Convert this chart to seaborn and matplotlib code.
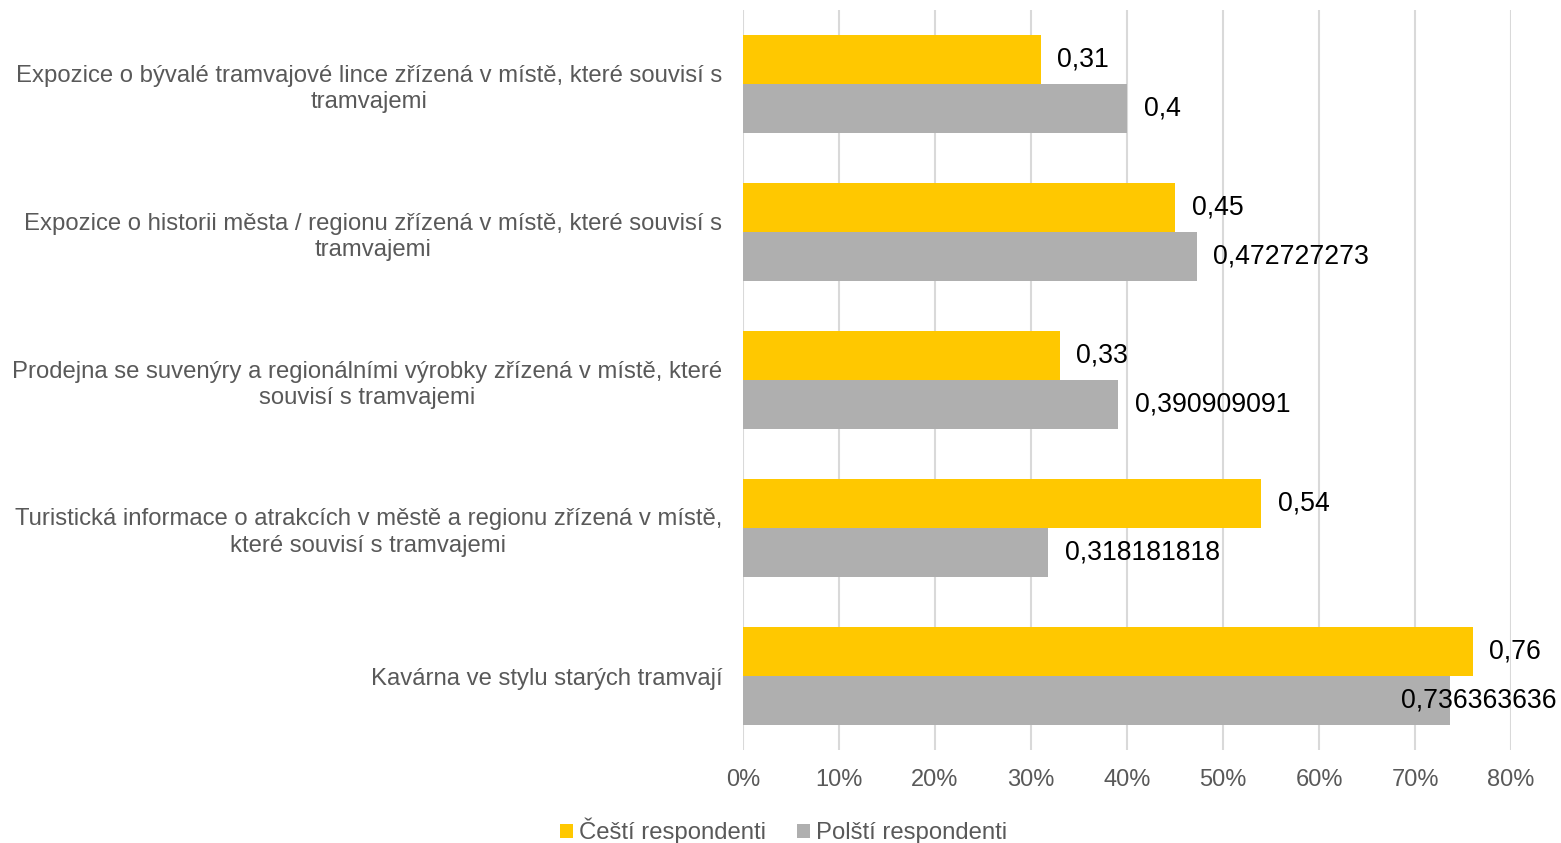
import matplotlib
matplotlib.use("Agg")
import matplotlib.pyplot as plt
from matplotlib.ticker import FuncFormatter, MultipleLocator
import seaborn as sns
import pandas as pd

categories = [
    "Expozice o bývalé tramvajové lince zřízená v místě, které souvisí s\ntramvajemi",
    "Expozice o historii města / regionu zřízená v místě, které souvisí s\ntramvajemi",
    "Prodejna se suvenýry a regionálními výrobky zřízená v místě, které\nsouvisí s tramvajemi",
    "Turistická informace o atrakcích v městě a regionu zřízená v místě,\nkteré souvisí s tramvajemi",
    "Kavárna ve stylu starých tramvají",
]
series = ["Čeští respondenti", "Polští respondenti"]
czech = [0.31, 0.45, 0.33, 0.54, 0.76]
polish = [0.4, 0.472727273, 0.390909091, 0.318181818, 0.736363636]
czech_labels = ["0,31", "0,45", "0,33", "0,54", "0,76"]
polish_labels = ["0,4", "0,472727273", "0,390909091", "0,318181818", "0,736363636"]
colors = ["#FFC800", "#AFAFAF"]

df = pd.DataFrame({
    "kategorie": categories * 2,
    "skupina": [series[0]] * len(categories) + [series[1]] * len(categories),
    "hodnota": czech + polish,
})

sns.set_theme(style="white")
plt.rcParams["font.family"] = ["Liberation Sans", "DejaVu Sans"]

W, H = 1561, 843
fig = plt.figure(figsize=(W / 100, H / 100), dpi=100)
ax = fig.add_axes([743 / W, 1 - 750 / H, (1511 - 743) / W, 740 / H])

sns.barplot(data=df, y="kategorie", x="hodnota", hue="skupina", order=categories,
            hue_order=series, palette=colors, orient="h", width=0.662,
            saturation=1, ax=ax, legend=True, zorder=3, linewidth=0)

ax.set_xlim(0, 0.8)
ax.xaxis.set_major_locator(MultipleLocator(0.1))
ax.xaxis.set_major_formatter(FuncFormatter(lambda v, p: f"{v * 100:.0f}%"))
ax.set_xlabel("")
ax.set_ylabel("")
ax.grid(axis="x", color="#D9D9D9", linewidth=1.5, zorder=0)
ax.grid(axis="y", visible=False)
ax.set_axisbelow(True)
for s in ax.spines.values():
    s.set_visible(False)

ax.tick_params(axis="x", length=0, pad=14, labelsize=17, labelcolor="#595959")
ax.tick_params(axis="y", length=0, pad=15, labelsize=17.2, labelcolor="#595959")
for t in ax.get_yticklabels():
    t.set_multialignment("center")
    t.set_linespacing(1.28)

value_texts = []
for cont, labs in zip(ax.containers, [czech_labels, polish_labels]):
    value_texts += ax.bar_label(cont, labels=labs, padding=12, fontsize=19.2, color="black")

handles, labels = ax.get_legend_handles_labels()
ax.get_legend().remove()
fig.legend(handles, labels, loc="lower center", bbox_to_anchor=(0.502, -0.027),
           ncol=2, frameon=False, fontsize=17.2, labelcolor="#595959",
           handlelength=0.55, handleheight=0.55, handletextpad=0.25, columnspacing=1.3)

# Pull any value label that would run past the right edge back inside the figure
fig.canvas.draw()
renderer = fig.canvas.get_renderer()
for t in value_texts:
    bb = t.get_window_extent(renderer)
    limit = W - 4
    if bb.x1 > limit:
        ox, oy = t.xyann
        t.xyann = (ox - (bb.x1 - limit) * 72 / 100, oy)

fig.savefig("out.png", dpi=100)
